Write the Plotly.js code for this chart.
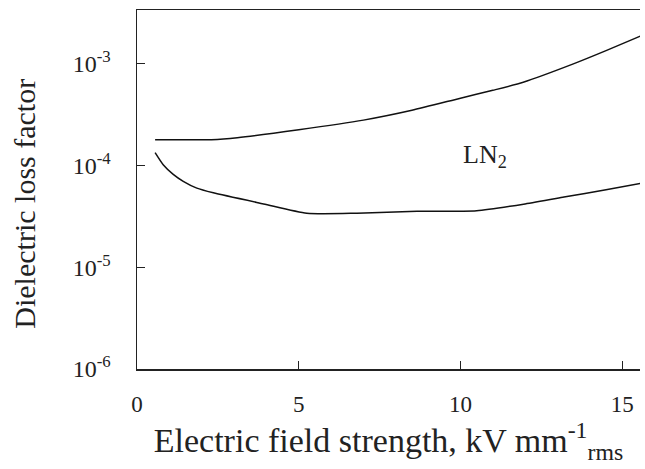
<!DOCTYPE html>
<html>
<head>
<meta charset="utf-8">
<script src="https://cdn.plot.ly/plotly-3.0.1.min.js"></script>
<style>html,body{margin:0;padding:0;background:#fff}#chart{width:645px;height:469px}</style>
</head>
<body>
<div id="chart"></div>
<script>
// Upper curve (dielectric loss factor vs field)
const upperX = [0.56, 1.4, 2.3, 3.1, 5.0, 7.0, 8.5, 10.0, 11.0, 11.94, 13.49, 14.5, 15.6];
const upperY = [1.8e-4, 1.8e-4, 1.8e-4, 1.88e-4, 2.25e-4, 2.8e-4, 3.5e-4, 4.6e-4, 5.5e-4, 6.6e-4, 1.0e-3, 1.35e-3, 1.9e-3];
// Lower curve
const lowerX = [0.56, 0.81, 1.12, 1.43, 1.85, 2.36, 3.91, 5.25, 6.8, 8.66, 10.5, 12.0, 13.2, 14.5, 15.6];
const lowerY = [1.34e-4, 1.02e-4, 8.2e-5, 7.0e-5, 6.0e-5, 5.4e-5, 4.2e-5, 3.4e-5, 3.4e-5, 3.55e-5, 3.6e-5, 4.2e-5, 4.9e-5, 5.8e-5, 6.7e-5];
// Tick labels
const xTickVals = [0, 5, 10, 15];
const yTickVals = [1e-6, 1e-5, 1e-4, 1e-3];
const yTickText = ['10<sup>-6</sup>', '10<sup>-5</sup>', '10<sup>-4</sup>', '10<sup>-3</sup>'];
const labelText = 'LN<sub>2</sub>';
const labelPos = [10.75, 1.25e-4];
const xTitle = 'Electric field strength, kV mm<sup>-1</sup><sub>rms</sub>';
const yTitle = 'Dielectric loss factor';

const font = 'Liberation Serif, Times New Roman, serif';
const lineStyle = {color: '#111', width: 1.5};

Plotly.newPlot('chart', [
  {x: upperX, y: upperY, type: 'scatter', mode: 'lines', line: Object.assign({shape: 'spline', smoothing: 0.6}, lineStyle), hoverinfo: 'skip'},
  {x: lowerX, y: lowerY, type: 'scatter', mode: 'lines', line: Object.assign({shape: 'spline', smoothing: 0.6}, lineStyle), hoverinfo: 'skip'}
], {
  width: 645, height: 469,
  margin: {l: 137, r: 5, t: 10, b: 100},
  showlegend: false,
  paper_bgcolor: '#fff', plot_bgcolor: '#fff',
  font: {family: font, color: '#222', size: 24},
  xaxis: {
    range: [0, 15.55], tickvals: xTickVals, ticks: 'inside', ticklen: 8, tickcolor: '#222',
    showline: true, linecolor: '#222', linewidth: 1.5, mirror: true, showgrid: false, zeroline: false,
    ticklabelstandoff: 14,
    tickfont: {family: font, size: 23, color: '#222'},
    title: {text: xTitle, font: {family: font, size: 34, color: '#222'}, standoff: 9}
  },
  yaxis: {
    type: 'log', range: [-6, -2.47], tickvals: yTickVals, ticktext: yTickText,
    ticks: 'inside', ticklen: 8, tickcolor: '#222',
    showline: true, linecolor: '#222', linewidth: 1.5, mirror: false, showgrid: false, zeroline: false,
    ticklabelstandoff: 20,
    tickfont: {family: font, size: 24, color: '#222'}
  },
  annotations: [{
    x: labelPos[0], y: Math.log10(labelPos[1]), xref: 'x', yref: 'y', text: labelText,
    showarrow: false, font: {family: font, size: 26, color: '#222'}
  }, {
    x: -0.223, y: 0.46, xref: 'paper', yref: 'paper', text: yTitle, textangle: -90,
    xanchor: 'center', yanchor: 'middle',
    showarrow: false, font: {family: font, size: 30, color: '#222'}
  }]
}, {staticPlot: true});
</script>
</body>
</html>
